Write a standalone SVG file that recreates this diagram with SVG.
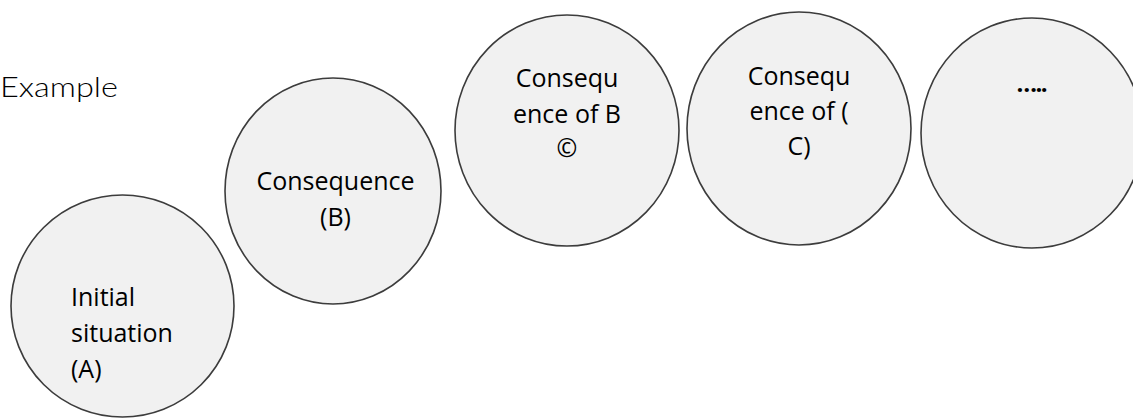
<svg xmlns="http://www.w3.org/2000/svg" width="1133" height="419" viewBox="0 0 1133 419">
  <style>
    .node { fill: #f1f1f1; stroke: #3c3c3c; stroke-width: 1.6; }
    .lbl { font-family: "Open Sans", "Liberation Sans", sans-serif; font-size: 25px; fill: #000000; }
    .c { text-anchor: middle; }
    .title { font-family: "Lato", "Open Sans", sans-serif; font-weight: 300; font-size: 27px; fill: #000000; }
  </style>
  <rect width="1133" height="419" fill="#ffffff"/>
  <text class="title" x="0" y="97" textLength="118" lengthAdjust="spacingAndGlyphs">Example</text>
  <g id="connectors"></g>
  <g id="node-a">
    <ellipse class="node" cx="122.5" cy="306" rx="111.5" ry="111"/>
    <text class="lbl" x="71" y="306">Initial</text>
    <text class="lbl" x="71" y="342">situation</text>
    <text class="lbl" x="71" y="378">(A)</text>
  </g>
  <g id="node-b">
    <ellipse class="node" cx="333" cy="191" rx="108" ry="113"/>
    <text class="lbl c" x="335.5" y="190">Consequence</text>
    <text class="lbl c" x="335.5" y="226">(B)</text>
  </g>
  <g id="node-c">
    <ellipse class="node" cx="567" cy="130.5" rx="112" ry="115.5"/>
    <text class="lbl c" x="567" y="87">Consequ</text>
    <text class="lbl c" x="567" y="122.5">ence of B</text>
    <text class="lbl c" x="567" y="157">©</text>
  </g>
  <g id="node-d">
    <ellipse class="node" cx="799" cy="128.5" rx="112" ry="116.5"/>
    <text class="lbl c" x="799" y="85">Consequ</text>
    <text class="lbl c" x="799" y="120">ence of (</text>
    <text class="lbl c" x="799" y="155">C)</text>
  </g>
  <g id="node-e">
    <ellipse class="node" cx="1032" cy="133" rx="111" ry="115"/>
    <text class="lbl" x="1016.5" y="92" textLength="31" lengthAdjust="spacing" style="font-size:24px;font-weight:bold">…..</text>
  </g>
</svg>
